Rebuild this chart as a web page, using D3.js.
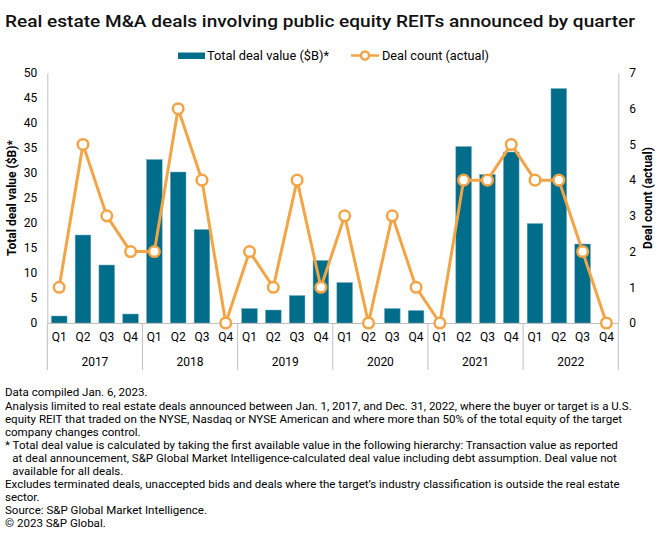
<!DOCTYPE html>
<html>
<head>
<meta charset="utf-8">
<script src="https://cdn.jsdelivr.net/npm/d3@7/dist/d3.min.js"></script>
<style>
  html, body { margin: 0; padding: 0; background: #fff; }
  svg { display: block; font-family: Roboto, "Noto Sans", sans-serif; }
</style>
</head>
<body>
<svg id="chart" width="660" height="540"></svg>
<script>
// ---- Data ----
const years = ["2017", "2018", "2019", "2020", "2021", "2022"];
const quarters = ["Q1", "Q2", "Q3", "Q4"];
const dealValue = [1.4, 17.6, 11.6, 1.8, 32.7, 30.2, 18.7, 0, 2.9, 2.6, 5.5, 12.5,
                   8.1, 0, 2.9, 2.5, 0, 35.3, 29.7, 34.2, 19.9, 46.9, 15.8, 0];
const dealCount = [1, 5, 3, 2, 2, 6, 4, 0, 2, 1, 4, 1, 3, 0, 3, 1, 0, 4, 4, 5, 4, 4, 2, 0];
const leftTicks = [0, 5, 10, 15, 20, 25, 30, 35, 40, 45, 50];
const rightTicks = [0, 1, 2, 3, 4, 5, 6, 7];
const titleText = "Real estate M&A deals involving public equity REITs announced by quarter";
const legendLabels = ["Total deal value ($B)*", "Deal count (actual)"];
const leftAxisTitle = "Total deal value ($B)*";
const rightAxisTitle = "Deal count (actual)";
const notes = [
  "Data compiled Jan. 6, 2023.",
  "Analysis limited to real estate deals announced between Jan. 1, 2017, and Dec. 31, 2022, where the buyer or target is a U.S.",
  "equity REIT that traded on the NYSE, Nasdaq or NYSE American and where more than 50% of the total equity of the target",
  "company changes control.",
  "* Total deal value is calculated by taking the first available value in the following hierarchy: Transaction value as reported",
  "at deal announcement, S&P Global Market Intelligence-calculated deal value including debt assumption. Deal value not",
  "available for all deals.",
  "Excludes terminated deals, unaccepted bids and deals where the target\u2019s industry classification is outside the real estate",
  "sector.",
  "Source: S&P Global Market Intelligence.",
  "\u00A9 2023 S&P Global."
];
const noteIndent = [0, 0, 0, 0, 0, 1, 1, 0, 0, 0, 0];

// ---- Layout ----
const barColor = "#006E8A";
const lineColor = "#F3A445";
const axisColor = "#BFBFBF";
const plot = { left: 47.3, right: 618.3, top: 73, bottom: 323 };

const rows = [];
years.forEach((y, yi) => quarters.forEach((q, qi) => {
  const i = yi * 4 + qi;
  rows.push({ key: y + q, year: y, quarter: q, value: dealValue[i], count: dealCount[i] });
}));

const svg = d3.select("#chart");

const x = d3.scaleBand().domain(rows.map(d => d.key))
  .range([plot.left, plot.right]).paddingInner(0.34).paddingOuter(0.17);
const yL = d3.scaleLinear().domain([0, 50]).range([plot.bottom, plot.top]);
const yR = d3.scaleLinear().domain([0, 7]).range([plot.bottom, plot.top]);

// Title
svg.append("text").attr("x", 5).attr("y", 27)
  .attr("font-size", 17).attr("font-weight", 500).attr("fill", "#111")
  .attr("textLength", 630).attr("lengthAdjust", "spacingAndGlyphs")
  .text(titleText);

// Legend
const lg = svg.append("g");
lg.append("rect").attr("x", 178).attr("y", 52.5).attr("width", 27).attr("height", 6.5).attr("fill", barColor);
lg.append("text").attr("x", 207).attr("y", 59.5).attr("font-size", 12)
  .attr("textLength", 122).attr("lengthAdjust", "spacingAndGlyphs").text(legendLabels[0]);
lg.append("line").attr("x1", 351).attr("x2", 379).attr("y1", 55.5).attr("y2", 55.5)
  .attr("stroke", lineColor).attr("stroke-width", 2.5);
lg.append("circle").attr("cx", 365).attr("cy", 55.5).attr("r", 4)
  .attr("fill", "#fff").attr("stroke", lineColor).attr("stroke-width", 2.5);
lg.append("text").attr("x", 382).attr("y", 59.5).attr("font-size", 12)
  .attr("textLength", 107).attr("lengthAdjust", "spacingAndGlyphs").text(legendLabels[1]);

// Left axis
const gL = svg.append("g").attr("transform", `translate(${plot.left},0)`)
  .call(d3.axisLeft(yL).tickValues(leftTicks).tickSize(0).tickPadding(10));
gL.select(".domain").attr("stroke", axisColor);
gL.selectAll("text").attr("font-size", 12).attr("fill", "#000").attr("font-family", "Roboto, sans-serif");

// Right axis
const gR = svg.append("g").attr("transform", `translate(${plot.right},0)`)
  .call(d3.axisRight(yR).tickValues(rightTicks).tickFormat(d3.format("d")).tickSize(0).tickPadding(11));
gR.select(".domain").attr("stroke", axisColor);
gR.selectAll("text").attr("font-size", 12).attr("fill", "#000").attr("font-family", "Roboto, sans-serif");

// Axis titles
svg.append("text").attr("transform", `translate(16,${(plot.top + plot.bottom) / 2}) rotate(-90)`)
  .attr("text-anchor", "middle").attr("font-size", 12).attr("font-weight", 700).text(leftAxisTitle);
svg.append("text").attr("transform", `translate(652,${(plot.top + plot.bottom) / 2}) rotate(-90)`)
  .attr("text-anchor", "middle").attr("font-size", 12).attr("font-weight", 700).text(rightAxisTitle);

// Bars
svg.append("g").selectAll("rect").data(rows.filter(d => d.value > 0)).join("rect")
  .attr("x", d => x(d.key)).attr("width", x.bandwidth())
  .attr("y", d => yL(d.value)).attr("height", d => yL(0) - yL(d.value))
  .attr("fill", barColor).attr("stroke", "#7FAFC0").attr("stroke-width", 0.5);

// Bottom axis
const gB = svg.append("g").attr("transform", `translate(0,${plot.bottom})`)
  .call(d3.axisBottom(x).tickSize(0).tickPadding(9).tickFormat((k, i) => rows[i].quarter));
gB.select(".domain").attr("stroke", axisColor);
gB.selectAll("text").attr("font-size", 12).attr("fill", "#000").attr("font-family", "Roboto, sans-serif");

// Year separators & labels
const step = x.step();
const bounds = d3.range(years.length + 1).map(i => plot.left + i * 4 * step);
svg.append("g").selectAll("line").data(bounds).join("line")
  .attr("x1", d => d).attr("x2", d => d).attr("y1", plot.bottom).attr("y2", 370)
  .attr("stroke", axisColor).attr("stroke-width", 1);
svg.append("g").selectAll("text").data(years).join("text")
  .attr("x", (d, i) => (bounds[i] + bounds[i + 1]) / 2).attr("y", 365.5)
  .attr("text-anchor", "middle").attr("font-size", 12).text(d => d);

// Line
const line = d3.line().x(d => x(d.key) + x.bandwidth() / 2).y(d => yR(d.count));
svg.append("path").datum(rows).attr("d", line)
  .attr("fill", "none").attr("stroke", lineColor).attr("stroke-width", 3).attr("stroke-linejoin", "round");
svg.append("g").selectAll("circle").data(rows).join("circle")
  .attr("cx", d => x(d.key) + x.bandwidth() / 2).attr("cy", d => yR(d.count)).attr("r", 5.3)
  .attr("fill", "#fff").attr("stroke", lineColor).attr("stroke-width", 2.5);

// Notes (slightly widened to match the reference typeface)
svg.append("g").attr("transform", "translate(5,0) scale(1.05,1) translate(-5,0)")
  .selectAll("text").data(notes).join("text")
  .attr("x", (d, i) => noteIndent[i] ? 12 : 5)
  .attr("y", (d, i) => 396.5 + i * 13.02)
  .attr("font-size", 11).attr("fill", "#000")
  .text(d => d);
</script>
</body>
</html>
